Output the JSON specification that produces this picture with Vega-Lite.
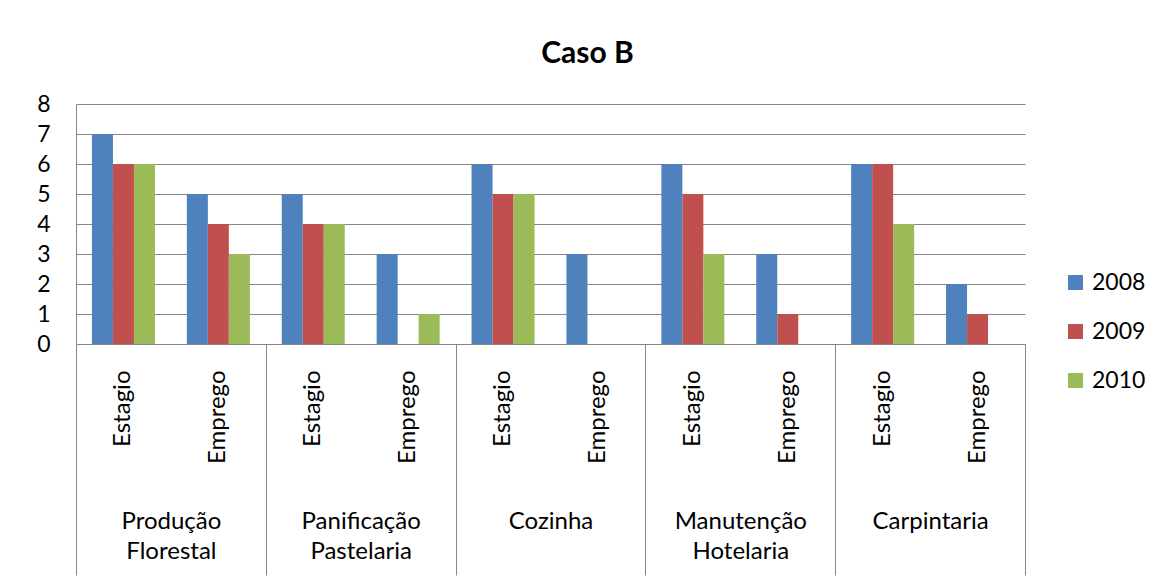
{
  "$schema": "https://vega.github.io/schema/vega-lite/v6.json",
  "autosize": {"type": "none"},
  "padding": {"left": 76, "top": 104, "right": 134, "bottom": 236},
  "width": 949,
  "height": 240,
  "background": "white",
  "title": {"text": "Caso B", "fontSize": 30, "font": "Lato", "fontWeight": "bold", "color": "#000000", "anchor": "middle", "dx": 37, "offset": 24},
  "config": {
    "view": {"stroke": null},
    "font": "Lato",
    "axis": {"labelFont": "Lato", "labelColor": "#000000", "labelFontSize": 24, "titleFont": "Lato"},
    "legend": {"labelFont": "Lato"}
  },
  "data": {"values": [
    {"group": "Produção Florestal", "key": "Produção Florestal|Estagio", "year": "2008", "value": 7},
    {"group": "Produção Florestal", "key": "Produção Florestal|Estagio", "year": "2009", "value": 6},
    {"group": "Produção Florestal", "key": "Produção Florestal|Estagio", "year": "2010", "value": 6},
    {"group": "Produção Florestal", "key": "Produção Florestal|Emprego", "year": "2008", "value": 5},
    {"group": "Produção Florestal", "key": "Produção Florestal|Emprego", "year": "2009", "value": 4},
    {"group": "Produção Florestal", "key": "Produção Florestal|Emprego", "year": "2010", "value": 3},
    {"group": "Panificação Pastelaria", "key": "Panificação Pastelaria|Estagio", "year": "2008", "value": 5},
    {"group": "Panificação Pastelaria", "key": "Panificação Pastelaria|Estagio", "year": "2009", "value": 4},
    {"group": "Panificação Pastelaria", "key": "Panificação Pastelaria|Estagio", "year": "2010", "value": 4},
    {"group": "Panificação Pastelaria", "key": "Panificação Pastelaria|Emprego", "year": "2008", "value": 3},
    {"group": "Panificação Pastelaria", "key": "Panificação Pastelaria|Emprego", "year": "2009", "value": 0},
    {"group": "Panificação Pastelaria", "key": "Panificação Pastelaria|Emprego", "year": "2010", "value": 1},
    {"group": "Cozinha", "key": "Cozinha|Estagio", "year": "2008", "value": 6},
    {"group": "Cozinha", "key": "Cozinha|Estagio", "year": "2009", "value": 5},
    {"group": "Cozinha", "key": "Cozinha|Estagio", "year": "2010", "value": 5},
    {"group": "Cozinha", "key": "Cozinha|Emprego", "year": "2008", "value": 3},
    {"group": "Cozinha", "key": "Cozinha|Emprego", "year": "2009", "value": 0},
    {"group": "Cozinha", "key": "Cozinha|Emprego", "year": "2010", "value": 0},
    {"group": "Manutenção Hotelaria", "key": "Manutenção Hotelaria|Estagio", "year": "2008", "value": 6},
    {"group": "Manutenção Hotelaria", "key": "Manutenção Hotelaria|Estagio", "year": "2009", "value": 5},
    {"group": "Manutenção Hotelaria", "key": "Manutenção Hotelaria|Estagio", "year": "2010", "value": 3},
    {"group": "Manutenção Hotelaria", "key": "Manutenção Hotelaria|Emprego", "year": "2008", "value": 3},
    {"group": "Manutenção Hotelaria", "key": "Manutenção Hotelaria|Emprego", "year": "2009", "value": 1},
    {"group": "Manutenção Hotelaria", "key": "Manutenção Hotelaria|Emprego", "year": "2010", "value": 0},
    {"group": "Carpintaria", "key": "Carpintaria|Estagio", "year": "2008", "value": 6},
    {"group": "Carpintaria", "key": "Carpintaria|Estagio", "year": "2009", "value": 6},
    {"group": "Carpintaria", "key": "Carpintaria|Estagio", "year": "2010", "value": 4},
    {"group": "Carpintaria", "key": "Carpintaria|Emprego", "year": "2008", "value": 2},
    {"group": "Carpintaria", "key": "Carpintaria|Emprego", "year": "2009", "value": 1},
    {"group": "Carpintaria", "key": "Carpintaria|Emprego", "year": "2010", "value": 0}
  ]},
  "layer": [
    {
      "mark": {"type": "bar", "opacity": 0},
      "encoding": {
        "x": {"field": "group", "type": "nominal", "sort": null,
          "scale": {"paddingInner": 0, "paddingOuter": 0},
          "axis": {"orient": "bottom", "title": null, "labelAngle": 0, "tickBand": "extent", "tickSize": 231, "tickColor": "#868686", "tickWidth": 1,
            "domain": false, "labelPadding": -66, "labelBaseline": "top", "labelLineHeight": 30,
            "labelExpr": "split(datum.label, ' ')"}},
        "y": {"field": "value", "type": "quantitative", "stack": null,
          "scale": {"domain": [0, 8], "nice": false},
          "axis": {"title": null, "values": [0,1,2,3,4,5,6,7,8], "labelOverlap": false, "ticks": false, "labelPadding": 26, "labelFontSize": 23,
            "gridColor": "#868686", "gridWidth": 1, "gridOpacity": 1,
            "domainColor": "#868686", "domainWidth": 1}}
      }
    },
    {
      "mark": {"type": "bar"},
      "encoding": {
        "x": {"field": "key", "type": "nominal", "sort": null,
          "scale": {"paddingInner": 0.336, "paddingOuter": 0.168},
          "axis": {"orient": "bottom", "title": null, "labelAngle": -90, "ticks": false, "labelPadding": 26,
            "domainColor": "#868686", "domainWidth": 1,
            "labelExpr": "split(datum.label, '|')[1]"}},
        "xOffset": {"field": "year", "type": "nominal", "scale": {"paddingInner": 0, "paddingOuter": 0}},
        "y": {"field": "value", "type": "quantitative", "stack": null,
          "scale": {"domain": [0, 8], "nice": false},
          "axis": {"title": null, "values": [0,1,2,3,4,5,6,7,8], "labelOverlap": false, "ticks": false, "labelPadding": 26, "labelFontSize": 23,
            "gridColor": "#868686", "gridWidth": 1, "gridOpacity": 1,
            "domainColor": "#868686", "domainWidth": 1}},
        "color": {"field": "year", "type": "nominal",
          "scale": {"domain": ["2008", "2009", "2010"], "range": ["#4F81BD", "#C0504D", "#9BBB59"]},
          "legend": {"title": null, "orient": "none", "legendX": 988, "legendY": 167, "symbolType": "square", "symbolSize": 225,
            "symbolStrokeWidth": 0, "labelFontSize": 23, "labelColor": "#000000", "rowPadding": 25, "padding": 0, "labelOffset": 5}}
      }
    }
  ],
  "resolve": {"scale": {"x": "independent"}, "axis": {"x": "independent"}}
}
